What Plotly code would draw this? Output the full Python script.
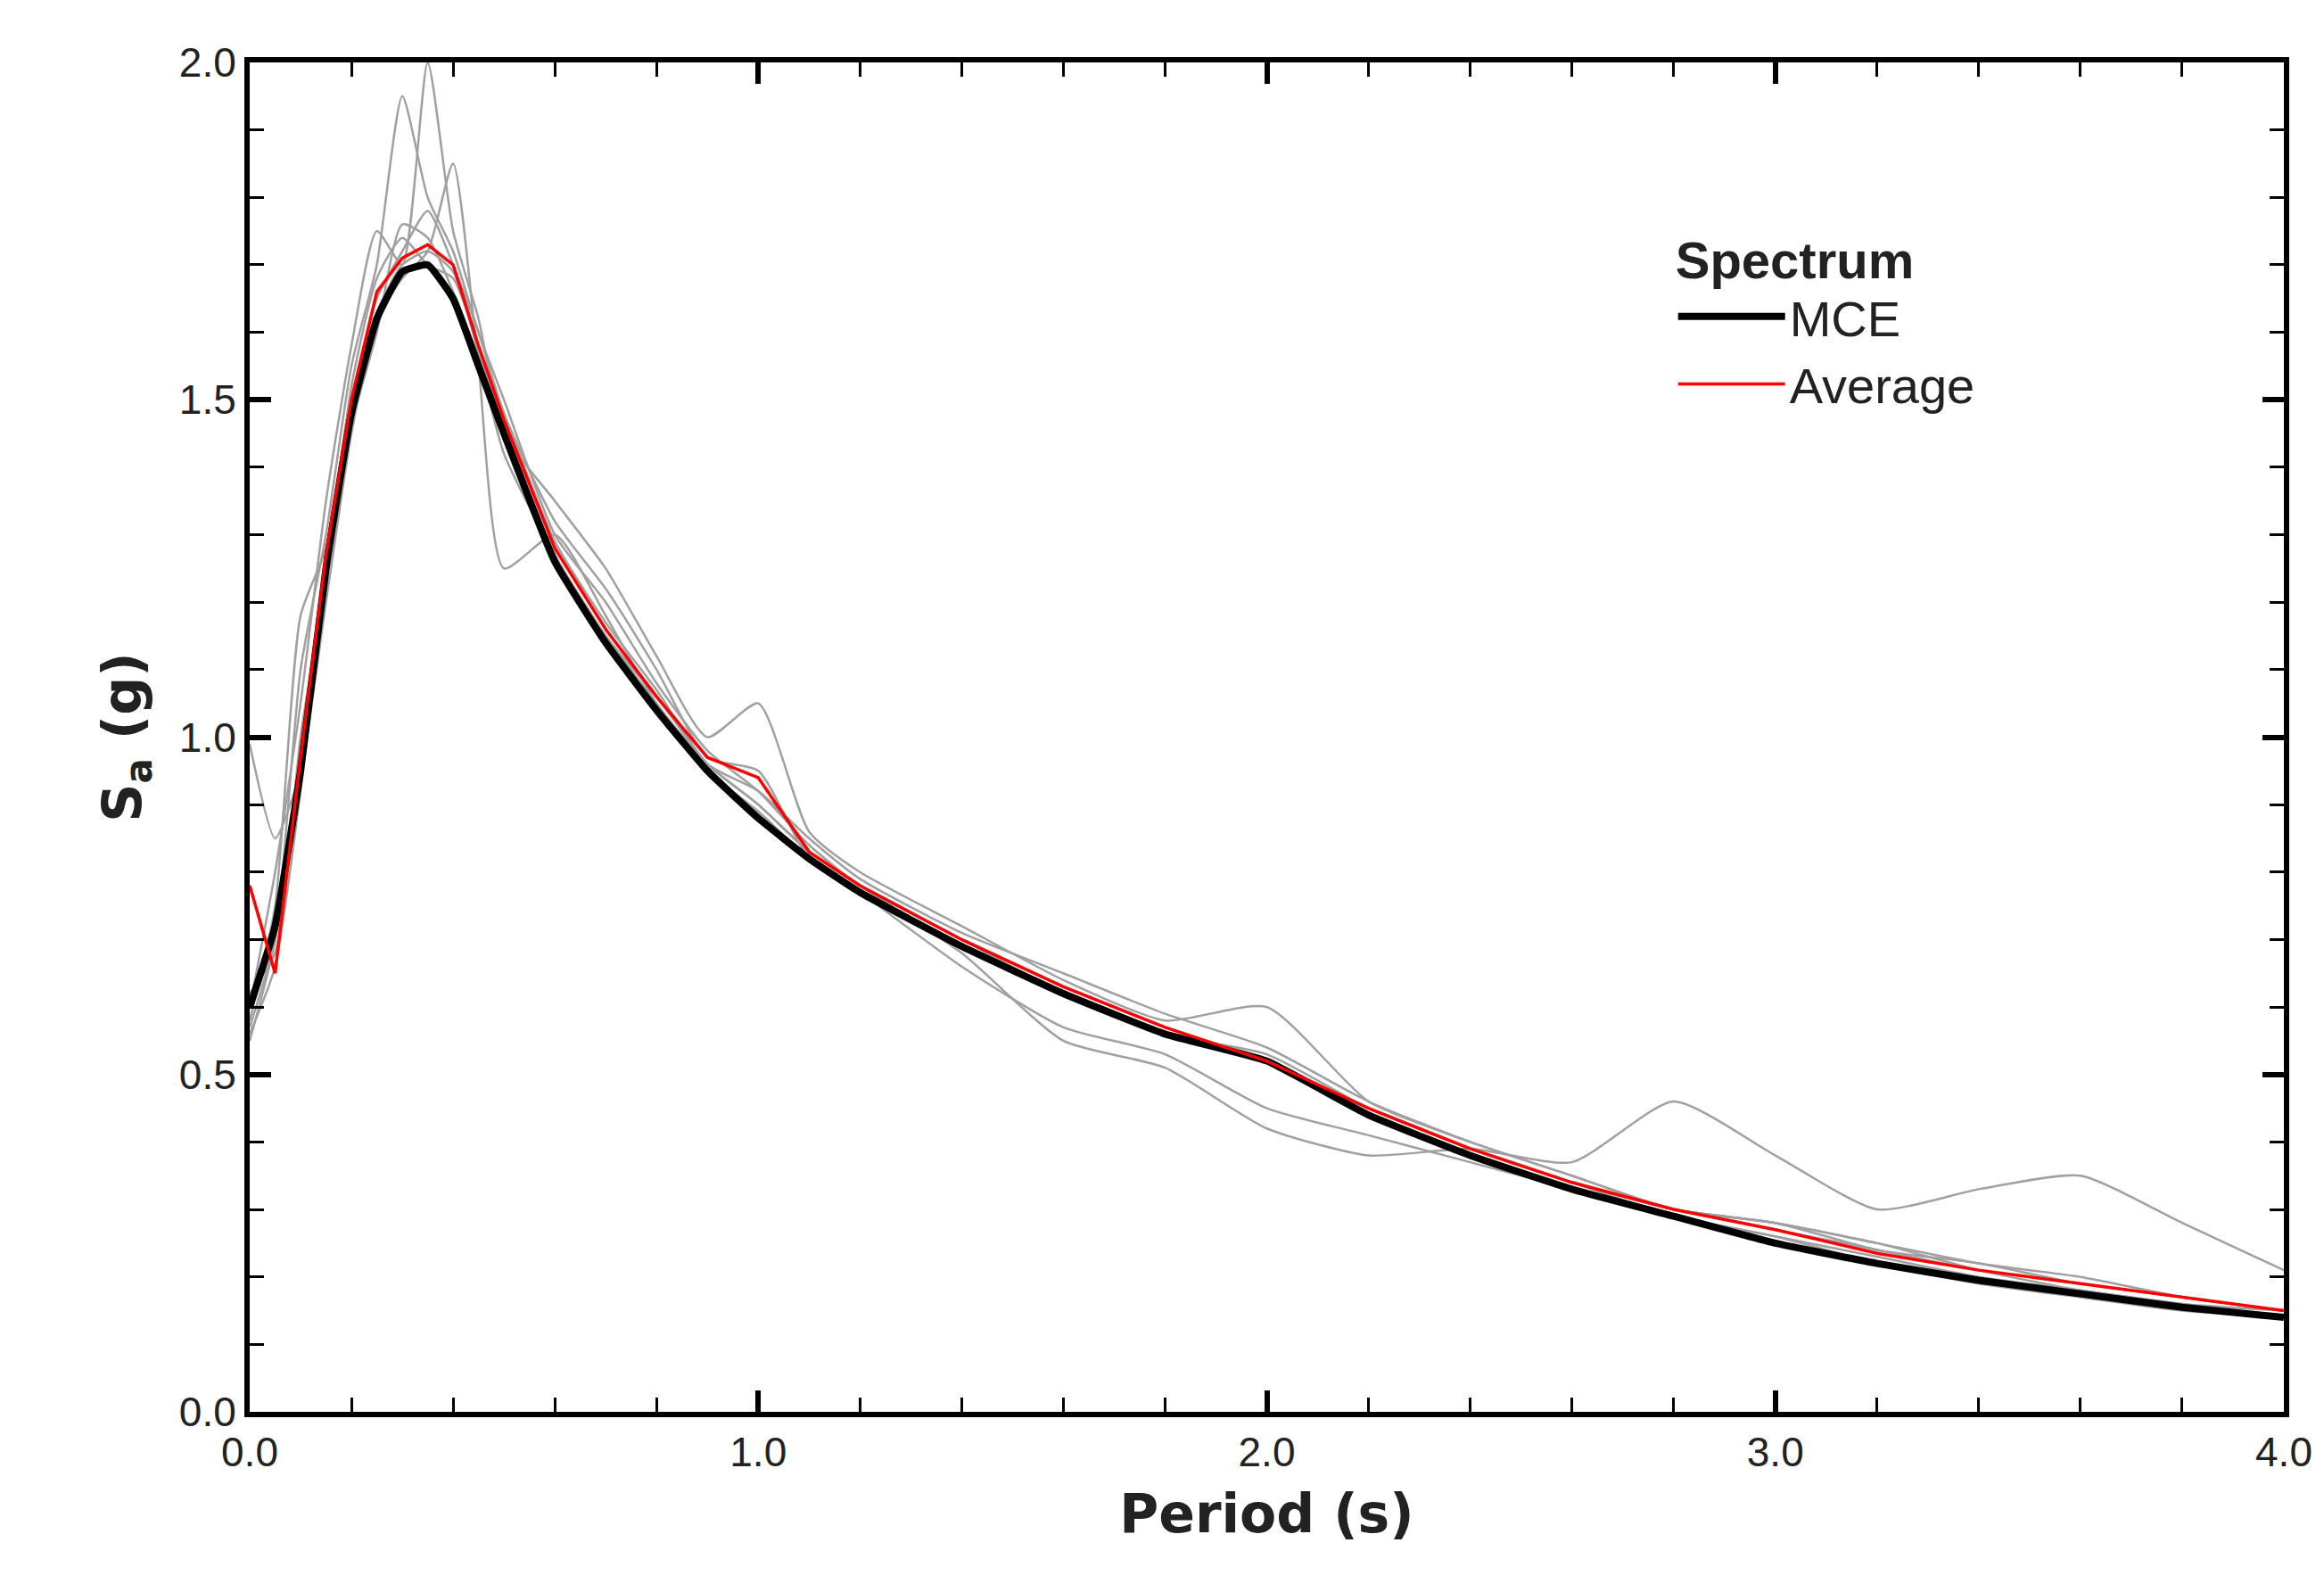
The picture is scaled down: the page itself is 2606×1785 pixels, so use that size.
import plotly.graph_objects as go

period = [0.0,0.05,0.1,0.15,0.2,0.25,0.3,0.35,0.4,0.45,0.5,0.6,0.7,0.8,0.9,1.0,1.1,1.2,1.4,1.6,1.8,2.0,2.2,2.4,2.6,2.8,3.0,3.2,3.4,3.6,3.8,4.0]
mce = [0.60,0.72,0.95,1.25,1.48,1.62,1.69,1.70,1.65,1.55,1.45,1.26,1.14,1.04,0.95,0.88,0.82,0.77,0.69,0.62,0.56,0.52,0.44,0.38,0.33,0.29,0.25,0.22,0.195,0.175,0.155,0.14]
average = [0.78,0.65,0.97,1.27,1.50,1.66,1.71,1.73,1.70,1.58,1.47,1.28,1.16,1.06,0.97,0.94,0.83,0.78,0.70,0.63,0.57,0.52,0.45,0.39,0.34,0.30,0.27,0.235,0.21,0.19,0.17,0.15]

records = [
    [0.55,0.70,1.10,1.30,1.55,1.70,1.95,1.80,1.72,1.60,1.50,1.30,1.20,1.08,0.98,0.92,0.84,0.78,0.70,0.62,0.56,0.52,0.45,0.39,0.34,0.30,0.27,0.24,0.21,0.19,0.17,0.15],
    [0.60,0.80,1.05,1.35,1.58,1.75,1.70,2.00,1.75,1.62,1.45,1.35,1.25,1.12,1.00,1.05,0.86,0.80,0.72,0.64,0.58,0.60,0.46,0.40,0.35,0.30,0.28,0.24,0.22,0.19,0.17,0.15],
    [0.99,0.85,0.95,1.20,1.45,1.62,1.68,1.72,1.85,1.55,1.25,1.30,1.18,1.05,0.96,0.90,0.83,0.78,0.68,0.55,0.51,0.42,0.38,0.39,0.37,0.46,0.38,0.30,0.33,0.35,0.28,0.21],
    [0.58,0.75,1.18,1.28,1.50,1.65,1.72,1.78,1.70,1.60,1.48,1.32,1.22,1.10,0.97,0.95,0.82,0.77,0.66,0.57,0.53,0.45,0.41,0.37,0.33,0.29,0.26,0.22,0.19,0.17,0.15,0.14],
    [0.62,0.68,1.00,1.24,1.52,1.68,1.74,1.70,1.68,1.58,1.48,1.29,1.17,1.07,0.96,0.92,0.85,0.79,0.71,0.65,0.59,0.54,0.46,0.40,0.35,0.30,0.28,0.25,0.21,0.18,0.16,0.15],
    [0.56,0.66,0.92,1.22,1.46,1.60,1.76,1.74,1.66,1.56,1.42,1.27,1.15,1.06,0.96,0.90,0.83,0.78,0.70,0.63,0.57,0.52,0.45,0.39,0.34,0.30,0.28,0.25,0.22,0.20,0.17,0.15],
    [0.57,0.70,0.98,1.26,1.49,1.63,1.70,1.72,1.69,1.57,1.46,1.27,1.15,1.05,0.95,0.89,0.82,0.77,0.69,0.62,0.56,0.53,0.45,0.39,0.34,0.29,0.26,0.23,0.20,0.18,0.16,0.14],
]

fig = go.Figure()
for r in records:
    fig.add_trace(go.Scatter(x=period, y=r, mode="lines", line=dict(color="#a0a0a0", width=2.5, shape="spline", smoothing=0.6), showlegend=False))
fig.add_trace(go.Scatter(x=period, y=mce, mode="lines", line=dict(color="black", width=8, shape="spline", smoothing=0.4), name="MCE"))
fig.add_trace(go.Scatter(x=period, y=average, mode="lines", line=dict(color="red", width=3.5), name="Average"))

axcommon = dict(showgrid=False, zeroline=False, showline=True, linecolor="black", linewidth=6,
                mirror="ticks", ticks="inside", ticklen=24, tickwidth=6, tickcolor="black",
                tickfont=dict(size=46, color="#222", family="Liberation Sans"))
fig.update_xaxes(range=[0, 4], dtick=1.0, tickformat=".1f",
                 minor=dict(dtick=0.2, ticks="inside", ticklen=16, tickwidth=3, tickcolor="black"),
                 title=dict(text="<b>Period (s)</b>", font=dict(size=60, family="DejaVu Sans", color="#222"), standoff=25),
                 **axcommon)
fig.update_yaxes(range=[0, 2], dtick=0.5, tickformat=".1f",
                 minor=dict(dtick=0.1, ticks="inside", ticklen=16, tickwidth=3, tickcolor="black"),
                 title=dict(text="<b>S<sub>a</sub> (g)</b>", font=dict(size=60, family="DejaVu Sans", color="#222"), standoff=25),
                 **axcommon)
fig.update_layout(width=2606, height=1785, plot_bgcolor="white", paper_bgcolor="white",
                  margin=dict(l=272, r=53, t=62, b=210),
                  legend=dict(x=0.70, y=0.89, xanchor="left", yanchor="top", bgcolor="rgba(0,0,0,0)",
                              title=dict(text="<b>Spectrum</b>", font=dict(size=58, family="Liberation Sans", color="#222"), side="top"),
                              font=dict(size=56, family="Liberation Sans", color="#222"), itemwidth=120))
fig.write_html("out.html")
